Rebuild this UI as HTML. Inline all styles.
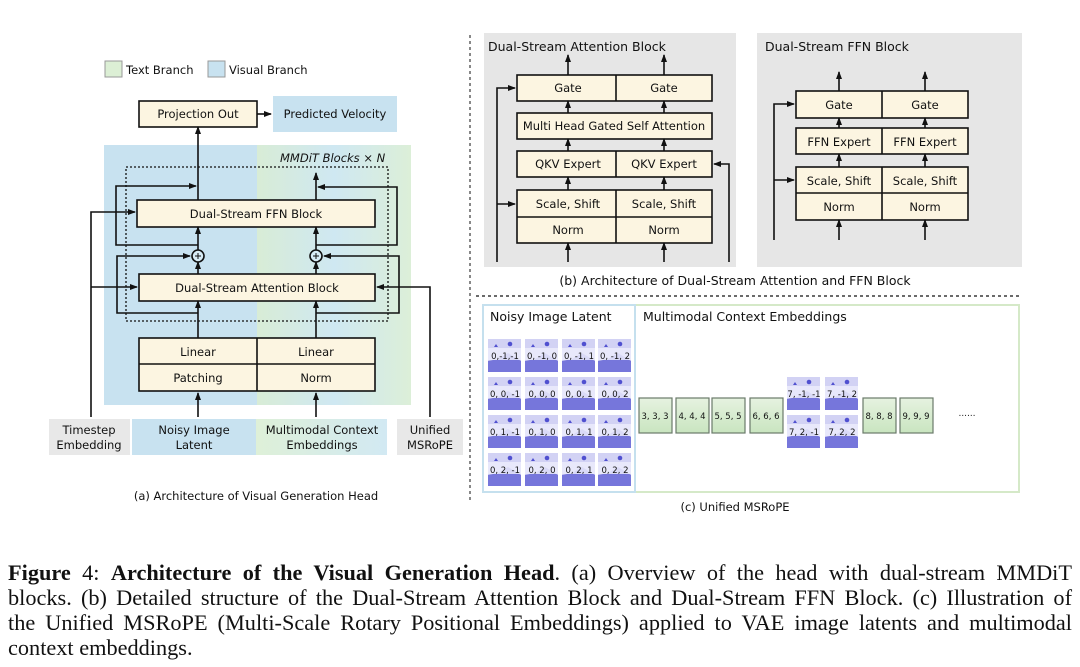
<!DOCTYPE html>
<html><head><meta charset="utf-8"><style>
body{margin:0;background:#fff;width:1080px;height:667px;overflow:hidden;position:relative}
svg{position:absolute;left:0;top:0}
svg text{font-family:"DejaVu Sans","Liberation Sans",sans-serif;font-size:11.5px;fill:#111}
svg text.s{font-size:8.5px}
svg text.t{font-size:12.5px}
.cap{position:absolute;left:8px;top:560px;width:1064px;font-family:"Liberation Serif",serif;font-size:22.3px;line-height:25px;color:#111}
.cap div{text-align:justify;text-align-last:justify;white-space:nowrap}
.cap div.l{text-align-last:left}
</style></head><body>
<svg width="1080" height="667" viewBox="0 0 1080 667">
<defs>
<marker id="a" markerWidth="8" markerHeight="8" refX="7" refY="4" orient="auto" markerUnits="userSpaceOnUse"><path d="M0,1 L8,4 L0,7z" fill="#111"/></marker>
<linearGradient id="g1" x1="0" x2="1"><stop offset="0" stop-color="#d8ecd6"/><stop offset="0.5" stop-color="#cfe8f2"/><stop offset="1" stop-color="#dcefd8"/></linearGradient>
<linearGradient id="g2" x1="0" x2="1"><stop offset="0" stop-color="#def0d8"/><stop offset="1" stop-color="#d2e9f3"/></linearGradient>
<linearGradient id="gt" x1="0" y1="0" x2="0" y2="1"><stop offset="0" stop-color="#e6f2e0"/><stop offset="1" stop-color="#c9e5c0"/></linearGradient>
<g id="tile"><rect width="33" height="33" fill="#d2d2f4"/><path d="M0,22 L0,33 L33,33 L33,22 L20,14 L10,20z" fill="#7676db"/><circle cx="22" cy="5" r="2.3" fill="#5050d0"/><path d="M6,8 l2,-3 l2,3z" fill="#5050d0"/><rect y="9" width="33" height="12" fill="#ececfb" opacity="0.85"/></g>
</defs>
<g stroke="#111" stroke-width="1.6" fill="none">
<rect x="105" y="61" width="17" height="16" fill="#dcefd5" stroke="#999" stroke-width="1"/>
<rect x="208" y="61" width="17" height="16" fill="#c8e2f0" stroke="#999" stroke-width="1"/>
<rect x="104" y="145" width="153" height="260" fill="#c8e2f0" stroke="none"/>
<rect x="257" y="145" width="154" height="260" fill="url(#g1)" stroke="none"/>
<rect x="126" y="167" width="262" height="154" stroke-dasharray="2,2" stroke-width="1.3"/>
<rect x="273" y="96" width="124" height="36" fill="#c8e2f0" stroke="none"/>
<rect x="139" y="101" width="118" height="26" fill="#fcf5e1"/>
<path d="M257,114 H271" marker-end="url(#a)"/>
<rect x="137" y="200" width="238" height="27" fill="#fcf5e1"/>
<rect x="139" y="274" width="236" height="27" fill="#fcf5e1"/>
<rect x="139" y="338" width="236" height="53" fill="#fcf5e1"/>
<path d="M257,338 V391 M139,364 H375"/>
<path d="M198,200 V127" marker-end="url(#a)"/>
<path d="M198,338 V301" marker-end="url(#a)"/>
<path d="M316,338 V301" marker-end="url(#a)"/>
<path d="M198,274 V262" marker-end="url(#a)"/>
<path d="M316,274 V262" marker-end="url(#a)"/>
<path d="M198,250 V227" marker-end="url(#a)"/>
<path d="M316,250 V227" marker-end="url(#a)"/>
<path d="M316,200 V173" marker-end="url(#a)"/>
<circle cx="198" cy="256" r="6" fill="#d8ecf6"/><path d="M195,256 h6 M198,253 v6" stroke-width="1"/>
<circle cx="316" cy="256" r="6" fill="#d8ecf6"/><path d="M313,256 h6 M316,253 v6" stroke-width="1"/>
<path d="M198,245 H116 V186 H196" marker-end="url(#a)"/>
<path d="M198,313 H117 V256 H190" marker-end="url(#a)"/>
<path d="M316,245 H397 V187 H318" marker-end="url(#a)"/>
<path d="M316,313 H399 V256 H324" marker-end="url(#a)"/>
<path d="M91,417 V212 H135" marker-end="url(#a)"/>
<path d="M91,287 H137" marker-end="url(#a)"/>
<path d="M430,417 V287 H377" marker-end="url(#a)"/>
<path d="M198,417 V393" marker-end="url(#a)"/>
<path d="M316,417 V393" marker-end="url(#a)"/>
<rect x="49" y="419" width="81" height="36" fill="#e8e8e8" stroke="none"/>
<rect x="132" y="419" width="124" height="36" fill="#c8e2f0" stroke="none"/>
<rect x="256" y="419" width="131" height="36" fill="url(#g2)" stroke="none"/>
<rect x="397" y="419" width="66" height="36" fill="#e8e8e8" stroke="none"/>
<path d="M470,35 V500" stroke-dasharray="3,3" stroke-width="1"/>
<path d="M476,296 H1020" stroke-dasharray="3,3" stroke-width="1.2"/>
<rect x="484" y="33" width="252" height="234" fill="#e6e6e6" stroke="none"/>
<rect x="517" y="75" width="195" height="26" fill="#fcf5e1"/><path d="M616,75 V101"/>
<rect x="517" y="113" width="195" height="26" fill="#fcf5e1"/>
<rect x="517" y="151" width="195" height="26" fill="#fcf5e1"/><path d="M616,151 V177"/>
<rect x="517" y="190" width="195" height="53" fill="#fcf5e1"/><path d="M616,190 V243 M517,217 H712"/>
<path d="M568,75 V55" marker-end="url(#a)"/><path d="M664,75 V55" marker-end="url(#a)"/>
<path d="M568,113 V101" marker-end="url(#a)"/><path d="M664,113 V101" marker-end="url(#a)"/>
<path d="M568,151 V139" marker-end="url(#a)"/><path d="M664,151 V139" marker-end="url(#a)"/>
<path d="M568,190 V177" marker-end="url(#a)"/><path d="M664,190 V177" marker-end="url(#a)"/>
<path d="M568,262 V243" marker-end="url(#a)"/><path d="M664,262 V243" marker-end="url(#a)"/>
<path d="M497,262 V88 H515" marker-end="url(#a)"/>
<path d="M497,204 H515" marker-end="url(#a)"/>
<path d="M729,262 V164 H714" marker-end="url(#a)"/>
<rect x="757" y="33" width="265" height="234" fill="#e6e6e6" stroke="none"/>
<rect x="796" y="91" width="172" height="27" fill="#fcf5e1"/><path d="M882,91 V118"/>
<rect x="796" y="128" width="172" height="26" fill="#fcf5e1"/><path d="M882,128 V154"/>
<rect x="796" y="167" width="172" height="53" fill="#fcf5e1"/><path d="M882,167 V220 M796,193 H968"/>
<path d="M839,91 V72" marker-end="url(#a)"/><path d="M925,91 V72" marker-end="url(#a)"/>
<path d="M839,128 V118" marker-end="url(#a)"/><path d="M925,128 V118" marker-end="url(#a)"/>
<path d="M839,167 V154" marker-end="url(#a)"/><path d="M925,167 V154" marker-end="url(#a)"/>
<path d="M839,240 V220" marker-end="url(#a)"/><path d="M925,240 V220" marker-end="url(#a)"/>
<path d="M774,240 V104 H794" marker-end="url(#a)"/>
<path d="M774,180 H794" marker-end="url(#a)"/>
<rect x="635" y="305" width="384" height="187" stroke="#d5e9c8" stroke-width="2"/>
<rect x="483" y="305" width="152" height="187" stroke="#c5e0ee" stroke-width="2"/>
</g>
<g>
<use href="#tile" x="488" y="339"/><use href="#tile" x="525" y="339"/><use href="#tile" x="562" y="339"/><use href="#tile" x="598" y="339"/>
<use href="#tile" x="488" y="377"/><use href="#tile" x="525" y="377"/><use href="#tile" x="562" y="377"/><use href="#tile" x="598" y="377"/>
<use href="#tile" x="488" y="415"/><use href="#tile" x="525" y="415"/><use href="#tile" x="562" y="415"/><use href="#tile" x="598" y="415"/>
<use href="#tile" x="488" y="453"/><use href="#tile" x="525" y="453"/><use href="#tile" x="562" y="453"/><use href="#tile" x="598" y="453"/>
<use href="#tile" x="787" y="377"/><use href="#tile" x="825" y="377"/><use href="#tile" x="787" y="415"/><use href="#tile" x="825" y="415"/>
</g>
<g fill="url(#gt)" stroke="#6a7a6a" stroke-width="1.2">
<rect x="639" y="398" width="33" height="35"/><rect x="676" y="398" width="33" height="35"/><rect x="712" y="398" width="33" height="35"/><rect x="750" y="398" width="33" height="35"/>
<rect x="863" y="398" width="33" height="35"/><rect x="900" y="398" width="33" height="35"/>
</g>
<g text-anchor="middle">
<text class="s" x="505" y="359">0,-1,-1</text><text class="s" x="542" y="359">0, -1, 0</text><text class="s" x="579" y="359">0, -1, 1</text><text class="s" x="615" y="359">0, -1, 2</text>
<text class="s" x="505" y="397">0, 0, -1</text><text class="s" x="542" y="397">0, 0, 0</text><text class="s" x="579" y="397">0, 0, 1</text><text class="s" x="615" y="397">0, 0, 2</text>
<text class="s" x="505" y="435">0, 1, -1</text><text class="s" x="542" y="435">0, 1, 0</text><text class="s" x="579" y="435">0, 1, 1</text><text class="s" x="615" y="435">0, 1, 2</text>
<text class="s" x="505" y="473">0, 2, -1</text><text class="s" x="542" y="473">0, 2, 0</text><text class="s" x="579" y="473">0, 2, 1</text><text class="s" x="615" y="473">0, 2, 2</text>
<text class="s" x="804" y="397">7, -1, -1</text><text class="s" x="842" y="397">7, -1, 2</text><text class="s" x="804" y="435">7, 2, -1</text><text class="s" x="842" y="435">7, 2, 2</text>
<text class="s" x="655" y="419">3, 3, 3</text><text class="s" x="692" y="419">4, 4, 4</text><text class="s" x="728" y="419">5, 5, 5</text><text class="s" x="766" y="419">6, 6, 6</text>
<text class="s" x="879" y="419">8, 8, 8</text><text class="s" x="916" y="419">9, 9, 9</text>
<text class="s" x="967" y="416">……</text>
<text x="198" y="118">Projection Out</text>
<text x="335" y="118">Predicted Velocity</text>
<text x="256" y="218">Dual-Stream FFN Block</text>
<text x="257" y="292">Dual-Stream Attention Block</text>
<text x="198" y="356">Linear</text><text x="316" y="356">Linear</text>
<text x="198" y="382">Patching</text><text x="316" y="382">Norm</text>
<text x="89" y="434">Timestep</text><text x="89" y="449">Embedding</text>
<text x="194" y="434">Noisy Image</text><text x="194" y="449">Latent</text>
<text x="322" y="434">Multimodal Context</text><text x="322" y="449">Embeddings</text>
<text x="430" y="434">Unified</text><text x="430" y="449">MSRoPE</text>
<text x="256" y="500">(a) Architecture of Visual Generation Head</text>
<text x="568" y="92">Gate</text><text x="664" y="92">Gate</text>
<text x="614" y="130">Multi Head Gated Self Attention</text>
<text x="568" y="168">QKV Expert</text><text x="664" y="168">QKV Expert</text>
<text x="568" y="208">Scale, Shift</text><text x="664" y="208">Scale, Shift</text>
<text x="568" y="234">Norm</text><text x="664" y="234">Norm</text>
<text x="839" y="109">Gate</text><text x="925" y="109">Gate</text>
<text x="839" y="146">FFN Expert</text><text x="925" y="146">FFN Expert</text>
<text x="839" y="185">Scale, Shift</text><text x="925" y="185">Scale, Shift</text>
<text x="839" y="211">Norm</text><text x="925" y="211">Norm</text>
<text class="t" x="735" y="285">(b) Architecture of Dual-Stream Attention and FFN Block</text>
<text x="735" y="511">(c) Unified MSRoPE</text>
</g>
<text x="126" y="74">Text Branch</text>
<text x="229" y="74">Visual Branch</text>
<text x="280" y="162" style="font-style:italic">MMDiT Blocks × N</text>
<text class="t" x="488" y="51">Dual-Stream Attention Block</text>
<text class="t" x="765" y="51">Dual-Stream FFN Block</text>
<text class="t" x="490" y="321">Noisy Image Latent</text>
<text class="t" x="643" y="321">Multimodal Context Embeddings</text>
</svg>
<div class="cap">
<div><b>Figure</b> 4: <b>Architecture of the Visual Generation Head</b>. (a) Overview of the head with dual-stream MMDiT</div>
<div>blocks. (b) Detailed structure of the Dual-Stream Attention Block and Dual-Stream FFN Block. (c) Illustration of</div>
<div>the Unified MSRoPE (Multi-Scale Rotary Positional Embeddings) applied to VAE image latents and multimodal</div>
<div class="l">context embeddings.</div>
</div>
</body></html>
